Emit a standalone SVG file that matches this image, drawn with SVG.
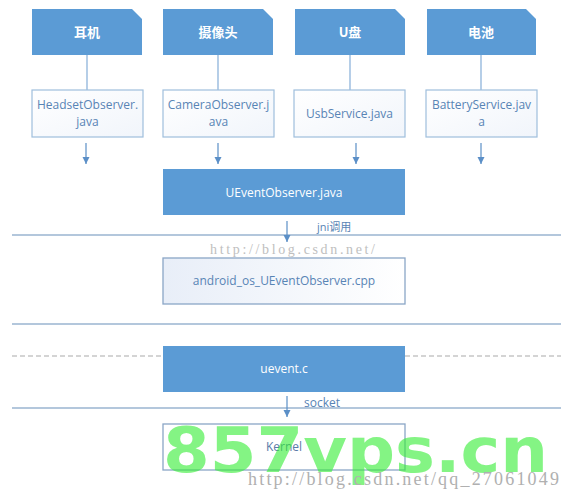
<svg xmlns="http://www.w3.org/2000/svg" width="574" height="500" viewBox="0 0 574 500">
<style>
.top{fill:#5b9bd5}
.topt{fill:#fff;font-family:"Noto Sans CJK SC","Noto Sans",sans-serif;font-size:13px;font-weight:bold;text-anchor:middle}
.sub{fill:url(#sg);stroke:#9fbedd;stroke-width:1.2}
.subt{fill:#5884b5;font-family:"Open Sans","Noto Sans",sans-serif;font-size:12px;text-anchor:middle}
.main{fill:#5b9bd5}
.maint{fill:#fff;font-family:"Open Sans","Noto Sans",sans-serif;font-size:12px;text-anchor:middle}
.box2{stroke:#8aa6c6;stroke-width:1.3}
.link{stroke:#8eb4db;stroke-width:1.3;fill:none}
.arr{stroke:#5b8fc7;stroke-width:1.2;fill:none;marker-end:url(#ah)}
.div{stroke:#9ab5d0;stroke-width:1.6}
.dash{stroke:#c6c6c6;stroke-width:1.3;stroke-dasharray:5 3}
.lbl{fill:#5884b5;font-family:"Open Sans","Noto Sans","Noto Sans CJK SC",sans-serif;font-size:11px}
.wm{fill:#b0b0b0;font-family:"Liberation Serif",serif}
</style>
<defs>
<linearGradient id="sg" x1="0" y1="0" x2="1" y2="1">
<stop offset="0" stop-color="#ffffff"/>
<stop offset="1" stop-color="#f1f5fb"/>
</linearGradient>
<linearGradient id="cg" x1="0" y1="0" x2="1" y2="0">
<stop offset="0" stop-color="#e8eef8"/>
<stop offset="1" stop-color="#ffffff"/>
</linearGradient>
<marker id="ah" markerWidth="8" markerHeight="8" refX="7" refY="3.5" orient="auto" markerUnits="userSpaceOnUse">
<path d="M0,0 L7,3.5 L0,7 Z" fill="#5b8fc7"/>
</marker>
</defs>
<rect width="574" height="500" fill="#ffffff"/>

<g id="dividers">
<line class="div" x1="12" y1="235" x2="561" y2="235"/>
<line class="div" x1="12" y1="324" x2="561" y2="324"/>
<line class="dash" x1="12" y1="356" x2="163" y2="356"/>
<line class="dash" x1="405" y1="356" x2="561" y2="356"/>
<line class="div" x1="12" y1="408" x2="561" y2="408"/>
</g>

<g id="connectors">
<line class="link" x1="87" y1="55" x2="87" y2="90"/>
<line class="link" x1="218" y1="55" x2="218" y2="90"/>
<line class="link" x1="350" y1="55" x2="350" y2="90"/>
<line class="link" x1="481" y1="55" x2="481" y2="90"/>
<line class="arr" x1="86" y1="143" x2="86" y2="164"/>
<line class="arr" x1="218" y1="143" x2="218" y2="164"/>
<line class="arr" x1="356" y1="143" x2="356" y2="164"/>
<line class="arr" x1="481" y1="143" x2="481" y2="164"/>
<line class="arr" x1="287" y1="221" x2="287" y2="242"/>
<text class="lbl" x="317" y="231">jni调用</text>
<line class="arr" x1="287" y1="396" x2="287" y2="417"/>
<text class="lbl" x="304" y="407" style="font-size:12px">socket</text>
</g>

<g id="n-erji">
<path class="top" d="M32,9 H132 L142,19 V55 H32 Z"/>
<text class="topt" x="87" y="37">耳机</text>
</g>
<g id="n-camera">
<path class="top" d="M163,9 H263 L273,19 V55 H163 Z"/>
<text class="topt" x="218" y="37">摄像头</text>
</g>
<g id="n-udisk">
<path class="top" d="M295,9 H395 L405,19 V55 H295 Z"/>
<text class="topt" x="350" y="37">U盘</text>
</g>
<g id="n-battery">
<path class="top" d="M427,9 H526 L536,19 V55 H427 Z"/>
<text class="topt" x="481" y="37">电池</text>
</g>

<g id="n-headset">
<rect class="sub" x="32" y="90" width="111" height="47"/>
<text class="subt" x="87.5" y="109">HeadsetObserver.</text>
<text class="subt" x="87.5" y="126">java</text>
</g>
<g id="n-cameraobs">
<rect class="sub" x="163" y="90" width="111" height="47"/>
<text class="subt" x="218.5" y="109">CameraObserver.j</text>
<text class="subt" x="218.5" y="126">ava</text>
</g>
<g id="n-usb">
<rect class="sub" x="294" y="90" width="111" height="47"/>
<text class="subt" x="349.5" y="117.5">UsbService.java</text>
</g>
<g id="n-batteryservice">
<rect class="sub" x="426" y="90" width="111" height="47"/>
<text class="subt" x="481.5" y="109">BatteryService.jav</text>
<text class="subt" x="481.5" y="126">a</text>
</g>

<g id="n-ueventobserver">
<rect class="main" x="163" y="169" width="242" height="46"/>
<text class="maint" x="284" y="197">UEventObserver.java</text>
</g>

<g id="n-cpp">
<rect class="box2" fill="url(#cg)" x="163" y="258" width="242" height="46"/>
<text class="subt" x="284" y="285">android_os_UEventObserver.cpp</text>
</g>

<g id="n-uevent">
<rect class="main" x="163" y="346" width="242" height="46"/>
<text class="maint" x="284" y="373">uevent.c</text>
</g>

<g id="n-kernel">
<rect class="box2" fill="#ffffff" x="163" y="424" width="242" height="46"/>
<text class="subt" x="284" y="451" style="fill:#5a7aa8">Kernel</text>
</g>

<g id="watermarks">
<text class="wm" x="210" y="254" font-size="14" textLength="165" lengthAdjust="spacing" opacity="0.8">http://blog.csdn.net/</text>
<text x="163" y="472" font-family="DejaVu Sans" font-weight="bold" font-size="62" fill="#33ee33" opacity="0.6" textLength="385" lengthAdjust="spacingAndGlyphs">857vps.cn</text>
<text class="wm" x="248" y="485" font-size="18" textLength="311" lengthAdjust="spacing">http://blog.csdn.net/qq_27061049</text>
</g>
</svg>
